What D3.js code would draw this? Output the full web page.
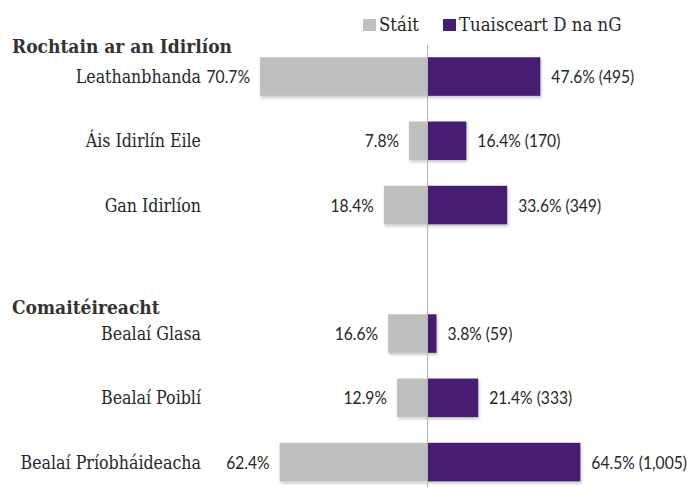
<!DOCTYPE html>
<html><head><meta charset="utf-8">
<script src="https://cdn.jsdelivr.net/npm/d3@7"></script>
<style>body{margin:0;background:#fff}svg{display:block}</style>
</head><body>
<svg id="c" width="691" height="487"></svg>
<script>
// ---- data ----
const seriesNames = ["Stáit", "Tuaisceart D na nG"];
const groupTitles = ["Rochtain ar an Idirlíon", "Comaitéireacht"];
const group1Categories = ["Leathanbhanda", "Áis Idirlín Eile", "Gan Idirlíon"];
const group1State = [70.7, 7.8, 18.4];
const group1North = [47.6, 16.4, 33.6];
const group1NorthCounts = ["495", "170", "349"];
const group2Categories = ["Bealaí Glasa", "Bealaí Poiblí", "Bealaí Príobháideacha"];
const group2State = [16.6, 12.9, 62.4];
const group2North = [3.8, 21.4, 64.5];
const group2NorthCounts = ["59", "333", "1,005"];

const GRAY = "#bfbfbf", PURPLE = "#461d73", TEXT = "#262626";
const SERIF = "'DejaVu Serif Condensed','DejaVu Serif',serif";
const SANS = "Lato,'Open Sans',sans-serif";

const rows = [];
group1Categories.forEach((c, i) => rows.push({key: c, cat: c, s: group1State[i], n: group1North[i], cnt: group1NorthCounts[i], g: 0, first: i === 0}));
rows.push({key: "__gap__", gap: true});
group2Categories.forEach((c, i) => rows.push({key: c, cat: c, s: group2State[i], n: group2North[i], cnt: group2NorthCounts[i], g: 1, first: i === 0}));

const svg = d3.select("#c");
const defs = svg.append("defs");
const f = defs.append("filter").attr("id", "sh").attr("x", "-10%").attr("y", "-20%").attr("width", "130%").attr("height", "150%");
f.append("feDropShadow").attr("dx", 1).attr("dy", 2).attr("stdDeviation", 1.5).attr("flood-color", "#000").attr("flood-opacity", 0.22);

const x0 = 427.5;
const x = d3.scaleLinear().domain([0, 100]).range([0, 237]);
const y = d3.scaleBand().domain(rows.map(r => r.key)).range([44.4, 494.2]).paddingInner(0.4).paddingOuter(0.2);
const data = rows.filter(r => !r.gap);

// condensed text helper
function ctext(sel, xp, yp, sx) {
  return sel.attr("transform", d => `translate(${typeof xp === "function" ? xp(d) : xp},${typeof yp === "function" ? yp(d) : yp}) scale(${sx},1)`);
}

// bars
svg.append("g").selectAll("rect.s").data(data).join("rect")
  .attr("x", d => x0 - x(d.s)).attr("y", d => y(d.key))
  .attr("width", d => x(d.s)).attr("height", y.bandwidth())
  .attr("fill", GRAY).attr("filter", "url(#sh)");
svg.append("g").selectAll("rect.n").data(data).join("rect")
  .attr("x", x0).attr("y", d => y(d.key))
  .attr("width", d => x(d.n)).attr("height", y.bandwidth())
  .attr("fill", PURPLE).attr("filter", "url(#sh)");

// center axis
svg.append("line").attr("x1", x0).attr("x2", x0).attr("y1", 45).attr("y2", 487)
  .attr("stroke", "#b3b3b3").attr("stroke-width", 1);

const cy = d => y(d.key) + y.bandwidth() / 2;

// category labels
ctext(svg.append("g").selectAll("text").data(data).join("text"), 201, d => cy(d) + 6.5, 0.98)
  .attr("text-anchor", "end").attr("font-family", SERIF).attr("font-size", 18).attr("fill", TEXT)
  .text(d => d.cat);

// state value labels
ctext(svg.append("g").selectAll("text").data(data).join("text"), d => x0 - x(d.s) - 10, d => cy(d) + 6.5, 0.92)
  .attr("text-anchor", "end").attr("font-family", SANS).attr("font-size", 17).attr("fill", TEXT)
  .text(d => d.s.toFixed(1) + "%");

// north value labels
ctext(svg.append("g").selectAll("text").data(data).join("text"), d => x0 + x(d.n) + 11, d => cy(d) + 6.5, 0.92)
  .attr("text-anchor", "start").attr("font-family", SANS).attr("font-size", 17).attr("fill", TEXT)
  .text(d => d.n.toFixed(1) + "% (" + d.cnt + ")");

// group titles
const titleOffset = [-4.5, 0];
const firsts = data.filter(d => d.first);
ctext(svg.append("g").selectAll("text").data(firsts).join("text"), 12, d => y(d.key) + titleOffset[d.g], 1.0)
  .attr("font-family", SERIF).attr("font-weight", "bold").attr("font-size", 19).attr("fill", "#333")
  .text(d => groupTitles[d.g]);

// legend
const lg = svg.append("g");
const legendX = [363, 443];
seriesNames.forEach((name, i) => {
  lg.append("rect").attr("x", legendX[i]).attr("y", 19).attr("width", 13).attr("height", 12).attr("fill", i ? PURPLE : GRAY);
  ctext(lg.append("text"), legendX[i] + 16, 31, 0.97)
    .attr("font-family", SERIF).attr("font-size", 19).attr("fill", TEXT).text(name);
});
</script>
</body></html>
